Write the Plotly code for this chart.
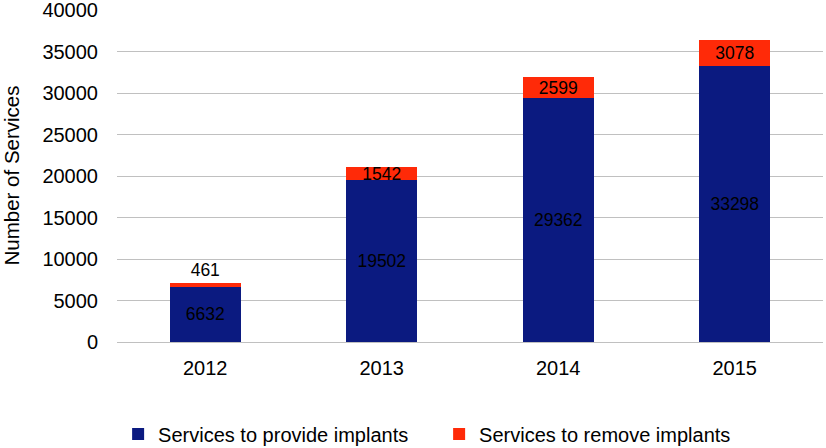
import plotly.graph_objects as go

years = ["2012", "2013", "2014", "2015"]
provide = [6632, 19502, 29362, 33298]
remove = [461, 1542, 2599, 3078]
y_ticks = [0, 5000, 10000, 15000, 20000, 25000, 30000, 35000, 40000]

navy = "#0b1a80"
red = "#ff2a08"
font = "Liberation Sans, Arial, sans-serif"

fig = go.Figure()
fig.add_trace(go.Bar(
    x=years, y=provide, name="Services to provide implants",
    marker=dict(color=navy, line=dict(width=0)),
    text=[str(v) for v in provide], textposition="inside",
    insidetextanchor="middle", constraintext="none",
    insidetextfont=dict(color="black", size=17.5, family=font),
))
fig.add_trace(go.Bar(
    x=years, y=remove, name="Services to remove implants",
    marker=dict(color=red, line=dict(width=0)),
    text=[str(v) for v in remove],
    textposition=["outside", "inside", "inside", "inside"],
    insidetextanchor="middle", constraintext="none", cliponaxis=False,
    insidetextfont=dict(color="black", size=17.5, family=font),
    outsidetextfont=dict(color="black", size=17.5, family=font),
))
fig.update_layout(
    barmode="stack", bargap=0.6,
    width=826, height=448,
    margin=dict(l=117, r=3, t=9, b=106, autoexpand=False),
    paper_bgcolor="white", plot_bgcolor="white",
    font=dict(family=font, size=20, color="black"),
    legend=dict(orientation="h", xref="container", yref="container",
                x=0.143, xanchor="left", y=0.075, yanchor="top",
                font=dict(size=20), itemwidth=30, traceorder="normal",
                entrywidth=276, entrywidthmode="pixels"),
)
fig.update_yaxes(range=[0, 40120], autorange=False, tickmode="array",
                 tickvals=y_ticks, ticktext=[str(v) for v in y_ticks],
                 ticklabeloverflow="allow",
                 showgrid=True, gridcolor="#c0c0c0",
                 gridwidth=1, zeroline=False, showline=False,
                 title=dict(text="Number of Services", standoff=24, font=dict(size=20.5)),
                 tickfont=dict(size=20), ticks="", ticklabelstandoff=18)
fig.update_xaxes(showline=True, linecolor="#c0c0c0", tickfont=dict(size=20), ticks="",
                 ticklabelstandoff=8)
fig.write_html("out.html", config={"displayModeBar": False},
               post_script="document.body.style.margin='0';document.body.style.overflow='hidden';")
